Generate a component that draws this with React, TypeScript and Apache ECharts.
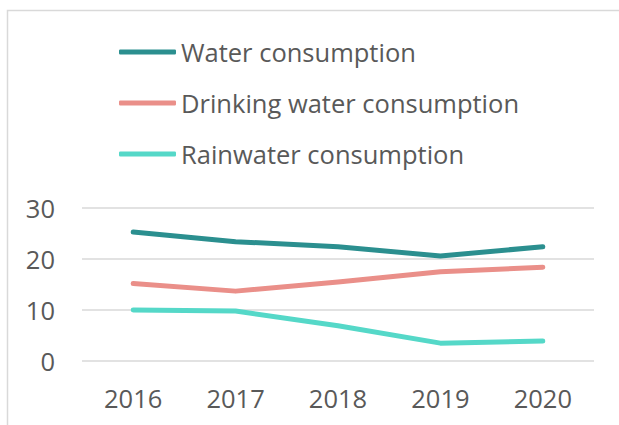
import React, { useEffect, useRef } from "react";
import * as echarts from "echarts";

const years = ["2016", "2017", "2018", "2019", "2020"];
const waterConsumption = [25.3, 23.4, 22.4, 20.6, 22.4];
const drinkingWaterConsumption = [15.2, 13.7, 15.5, 17.5, 18.4];
const rainwaterConsumption = [10.0, 9.8, 6.9, 3.5, 3.9];
const yTicks = [0, 10, 20, 30];

const seriesNames = ["Water consumption", "Drinking water consumption", "Rainwater consumption"];
const seriesColors = ["#2b8f8f", "#ea8f89", "#55d8c8"];
const seriesData = [waterConsumption, drinkingWaterConsumption, rainwaterConsumption];

const FONT = "'Open Sans', sans-serif";
const TEXT = "#595959";

export default function App() {
  const ref = useRef<HTMLDivElement>(null);
  useEffect(() => {
    if (!ref.current) return;
    const chart = echarts.init(ref.current, undefined, { renderer: "svg" });
    const legendTops = [37, 88, 139];
    chart.setOption({
      animation: false,
      backgroundColor: "#ffffff",
      textStyle: { fontFamily: FONT },
      graphic: [
        {
          type: "polyline",
          shape: { points: [[7.5, 430], [7.5, 10.5], [630, 10.5]] },
          style: { stroke: "#d9d9d9", lineWidth: 1.5, fill: null },
          silent: true,
        },
      ],
      legend: seriesNames.map((n, i) => ({
        data: [n],
        orient: "vertical",
        left: 119,
        top: legendTops[i],
        padding: 0,
        icon: "roundRect",
        itemWidth: 57,
        itemHeight: 5,
        textStyle: { fontFamily: FONT, fontSize: 25.5, color: TEXT, lineHeight: 30 },
        selectedMode: false,
      })),
      grid: { left: 82, right: 25, top: 208, bottom: 64, containLabel: false },
      xAxis: {
        type: "category",
        data: years,
        boundaryGap: true,
        axisLine: { show: false },
        axisTick: { show: false },
        axisLabel: { color: TEXT, fontFamily: FONT, fontSize: 25.5, margin: 24 },
      },
      yAxis: {
        type: "value",
        min: yTicks[0],
        max: yTicks[yTicks.length - 1],
        interval: 10,
        axisLine: { show: false },
        axisTick: { show: false },
        splitLine: { lineStyle: { color: "#d9d9d9", width: 1.5 } },
        axisLabel: { color: TEXT, fontFamily: FONT, fontSize: 25.5, margin: 27 },
      },
      series: seriesNames.map((n, i) => ({
        name: n,
        type: "line",
        data: seriesData[i],
        showSymbol: false,
        symbol: "none",
        color: seriesColors[i],
        lineStyle: { color: seriesColors[i], width: 5, cap: "round", join: "round" },
        itemStyle: { color: seriesColors[i] },
      })),
    });
    return () => chart.dispose();
  }, []);
  return <div ref={ref} style={{ width: 619, height: 425, position: "absolute", left: 0, top: 0 }} />;
}
